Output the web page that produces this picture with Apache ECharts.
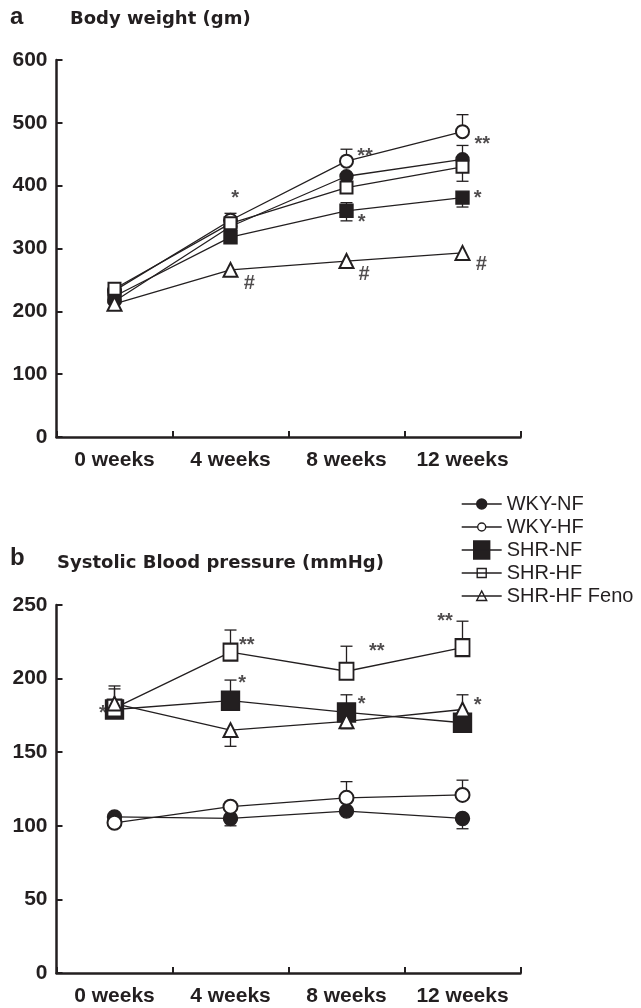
<!DOCTYPE html>
<html>
<head>
<meta charset="utf-8">
<script src="https://cdn.jsdelivr.net/npm/echarts@6/dist/echarts.min.js"></script>
<style>
html,body{margin:0;padding:0;background:#fff;}
#chart{width:641px;height:1008px;}
</style>
</head>
<body>
<div id="chart"></div>
<script>
// ---------- data ----------
const categories = ['0 weeks', '4 weeks', '8 weeks', '12 weeks'];
const seriesNames = ['WKY-NF', 'WKY-HF', 'SHR-NF', 'SHR-HF', 'SHR-HF Feno'];

// Panel a: Body weight (gm)
const bwWkyNf = [216, 335, 415, 442];
const bwWkyNfUp = [0, 0, 0, 22];
const bwWkyNfDown = [0, 0, 0, 0];
const bwWkyHf = [233, 345, 439, 486];
const bwWkyHfUp = [0, 11, 19, 27];
const bwWkyHfDown = [0, 0, 0, 0];
const bwShrNf = [224, 318, 360, 381];
const bwShrNfUp = [0, 0, 13, 0];
const bwShrNfDown = [0, 0, 16, 15];
const bwShrHf = [236, 340, 397, 430];
const bwShrHfUp = [0, 0, 0, 0];
const bwShrHfDown = [0, 0, 0, 23];
const bwFeno = [212, 266, 280, 293];
const bwFenoUp = [0, 0, 0, 0];
const bwFenoDown = [0, 0, 0, 0];
const bwTicks = [0, 100, 200, 300, 400, 500, 600];

// Panel b: Systolic blood pressure (mmHg)
const bpWkyNf = [106, 105, 110, 105];
const bpWkyNfUp = [0, 0, 0, 0];
const bpWkyNfDown = [0, 5, 0, 7];
const bpWkyHf = [102, 113, 119, 121];
const bpWkyHfUp = [0, 3, 11, 10];
const bpWkyHfDown = [0, 0, 0, 0];
const bpShrNf = [179, 185, 177, 170];
const bpShrNfUp = [0, 14, 12, 0];
const bpShrNfDown = [0, 0, 0, 0];
const bpShrHf = [180, 218, 205, 221];
const bpShrHfUp = [13, 15, 17, 18];
const bpShrHfDown = [0, 0, 0, 0];
const bpFeno = [183, 165, 171, 179];
const bpFenoUp = [12, 0, 0, 10];
const bpFenoDown = [0, 11, 5, 0];
const bpTicks = [0, 50, 100, 150, 200, 250];

// significance marks: [x position (category units), value, text]
const bwMarks = [
  [1.04, 388, '*'], [2.16, 455, '**'], [3.17, 473, '**'],
  [2.13, 349, '*'], [3.13, 388, '*'],
  [1.16, 245, '#'], [2.15, 259, '#'], [3.16, 274, '#']
];
const bpMarks = [
  [1.14, 226, '**'], [2.26, 222, '**'], [2.85, 242.5, '**'],
  [1.10, 200, '*'], [2.13, 185.5, '*'], [3.13, 185, '*'], [-0.10, 180, '*']
];

// ---------- styling ----------
const INK = '#231f20';
const FONT = "'Liberation Sans', Arial, Helvetica, sans-serif";
const TITLEFONT = "'DejaVu Sans', 'Liberation Sans', sans-serif";

const symA = {
  'WKY-NF': {symbol: 'circle', size: 13},
  'WKY-HF': {symbol: 'emptyCircle', size: 13},
  'SHR-NF': {symbol: 'rect', size: 13},
  'SHR-HF': {symbol: 'emptyRect', size: 12},
  'SHR-HF Feno': {symbol: 'emptyTriangle', size: 14}
};
const symB = {
  'WKY-NF': {symbol: 'circle', size: 14},
  'WKY-HF': {symbol: 'emptyCircle', size: 14},
  'SHR-NF': {symbol: 'rect', size: [18, 19]},
  'SHR-HF': {symbol: 'emptyRect', size: [14, 17]},
  'SHR-HF Feno': {symbol: 'emptyTriangle', size: 14}
};

const panelA = {
  'WKY-NF': [bwWkyNf, bwWkyNfUp, bwWkyNfDown],
  'WKY-HF': [bwWkyHf, bwWkyHfUp, bwWkyHfDown],
  'SHR-NF': [bwShrNf, bwShrNfUp, bwShrNfDown],
  'SHR-HF': [bwShrHf, bwShrHfUp, bwShrHfDown],
  'SHR-HF Feno': [bwFeno, bwFenoUp, bwFenoDown]
};
const panelB = {
  'WKY-NF': [bpWkyNf, bpWkyNfUp, bpWkyNfDown],
  'WKY-HF': [bpWkyHf, bpWkyHfUp, bpWkyHfDown],
  'SHR-NF': [bpShrNf, bpShrNfUp, bpShrNfDown],
  'SHR-HF': [bpShrHf, bpShrHfUp, bpShrHfDown],
  'SHR-HF Feno': [bpFeno, bpFenoUp, bpFenoDown]
};

function errorRender(params, api) {
  const x = api.value(0), v = api.value(1), up = api.value(2), dn = api.value(3);
  const top = api.coord([x, v + up]);
  const bot = api.coord([x, v - dn]);
  const hw = 6;
  const st = {stroke: INK, lineWidth: 1.3};
  const children = [{type: 'line', shape: {x1: top[0], y1: top[1], x2: bot[0], y2: bot[1]}, style: st}];
  if (up > 0) children.push({type: 'line', shape: {x1: top[0] - hw, y1: top[1], x2: top[0] + hw, y2: top[1]}, style: st});
  if (dn > 0) children.push({type: 'line', shape: {x1: bot[0] - hw, y1: bot[1], x2: bot[0] + hw, y2: bot[1]}, style: st});
  return {type: 'group', children: children};
}

const series = [];
function addPanel(panel, syms, gi) {
  seriesNames.forEach(function (name) {
    const d = panel[name];
    series.push({
      type: 'custom', name: name, xAxisIndex: gi, yAxisIndex: gi, z: 2,
      renderItem: errorRender, silent: true,
      data: d[0].map(function (v, i) { return [i, v, d[1][i], d[2][i]]; })
    });
  });
  seriesNames.forEach(function (name) {
    const d = panel[name];
    series.push({
      type: 'line', name: name, xAxisIndex: gi, yAxisIndex: gi, z: 3,
      data: d[0], symbol: syms[name].symbol, symbolSize: syms[name].size,
      showAllSymbol: true,
      lineStyle: {color: INK, width: 1.3},
      itemStyle: {color: INK, borderColor: INK, borderWidth: 1.4}
    });
  });
}
addPanel(panelA, symA, 0);
addPanel(panelB, symB, 1);

function addMarks(marks, gi, yOffsetStar, z) {
  const stars = marks.filter(function (m) { return m[2] !== '#'; });
  const hashes = marks.filter(function (m) { return m[2] === '#'; });
  [[stars, yOffsetStar, 'normal'], [hashes, 0, 'italic']].forEach(function (grp) {
    if (!grp[0].length) return;
    series.push({
      type: 'scatter', xAxisIndex: gi + 2, yAxisIndex: gi, symbolSize: 0, z: z, silent: true,
      data: grp[0].map(function (m) { return {value: [m[0], m[1]], name: m[2]}; }),
      label: {show: true, position: 'inside', formatter: '{b}', offset: [0, grp[1]],
        color: INK, fontSize: 20, fontWeight: 'bold', fontStyle: grp[2], fontFamily: FONT}
    });
  });
}
addMarks(bwMarks, 0, 5, 4);
addMarks(bpMarks, 1, 5, 1);

function catAxis(gi) {
  return {
    type: 'category', gridIndex: gi, data: categories, boundaryGap: true,
    axisLine: {onZero: false, lineStyle: {color: INK, width: 2.5}},
    axisTick: {show: true, inside: true, length: 6, interval: 0, lineStyle: {color: INK, width: 2}},
    axisLabel: {color: INK, fontSize: 21, fontWeight: 'bold', fontFamily: FONT, margin: 13, interval: 0},
    splitLine: {show: false}
  };
}
function valAxis(gi, ticks) {
  return {
    type: 'value', gridIndex: gi, min: ticks[0], max: ticks[ticks.length - 1],
    interval: ticks[1] - ticks[0],
    axisLine: {show: true, onZero: false, lineStyle: {color: INK, width: 2.5}},
    axisTick: {show: true, inside: true, length: 6, lineStyle: {color: INK, width: 2}},
    axisLabel: {color: INK, fontSize: 21, fontWeight: 'bold', fontFamily: FONT, margin: 9},
    splitLine: {show: false}
  };
}
function posAxis(gi) {
  return {type: 'value', gridIndex: gi, min: -0.5, max: 3.5, show: false, axisLine: {onZero: false}};
}

const legendIcons = {
  'WKY-NF': 'path://M0,0 M40,18 M0,9 L40,9 M15,9 a5,5 0 1,0 10,0 a5,5 0 1,0 -10,0 z',
  'WKY-HF': 'path://M0,0 M40,18 M0,9 L16,9 M24,9 L40,9 M16,9 a4,4 0 1,0 8,0 a4,4 0 1,0 -8,0 z',
  'SHR-NF': 'path://M0,0 M40,18 M0,9 L40,9 M12,0 L28,0 L28,18 L12,18 z',
  'SHR-HF': 'path://M0,0 M40,18 M0,9 L40,9 M15.5,4.5 L24.5,4.5 L24.5,13.5 L15.5,13.5 z',
  'SHR-HF Feno': 'path://M0,0 M40,18 M0,9 L40,9 M15,13.5 L20,4 L25,13.5 z'
};
const legendFill = {'WKY-NF': INK, 'WKY-HF': '#fff', 'SHR-NF': INK, 'SHR-HF': 'rgba(0,0,0,0)', 'SHR-HF Feno': 'rgba(0,0,0,0)'};

const option = {
  animation: false,
  backgroundColor: '#fff',
  title: [
    {text: 'a', left: 10, top: 5, padding: 0, textStyle: {color: INK, fontSize: 24, fontWeight: 'bold', fontFamily: FONT}},
    {text: 'Body weight (gm)', left: 70, top: 10, padding: 0, textStyle: {color: INK, fontSize: 18, fontWeight: 'bold', fontFamily: TITLEFONT}},
    {text: 'b', left: 10, top: 546, padding: 0, textStyle: {color: INK, fontSize: 24, fontWeight: 'bold', fontFamily: FONT}},
    {text: 'Systolic Blood pressure (mmHg)', left: 57, top: 554, padding: 0, textStyle: {color: INK, fontSize: 18, fontWeight: 'bold', fontFamily: TITLEFONT}}
  ],
  legend: {
    orient: 'vertical', left: 461, top: 494, padding: 0,
    itemWidth: 40, itemHeight: 18, itemGap: 3, selectedMode: false,
    textStyle: {color: INK, fontSize: 20, fontFamily: FONT},
    itemStyle: {borderColor: INK, borderWidth: 1.4},
    data: seriesNames.map(function (n) {
      return {name: n, icon: legendIcons[n], itemStyle: {color: legendFill[n], borderColor: INK, borderWidth: 1.4}};
    })
  },
  grid: [
    {left: 56.5, top: 60, width: 464, height: 377},
    {left: 56.5, top: 605, width: 464, height: 368}
  ],
  xAxis: [catAxis(0), catAxis(1), posAxis(0), posAxis(1)],
  yAxis: [valAxis(0, bwTicks), valAxis(1, bpTicks)],
  series: series
};

const chart = echarts.init(document.getElementById('chart'), null, {renderer: 'canvas'});
chart.setOption(option);
</script>
</body>
</html>
